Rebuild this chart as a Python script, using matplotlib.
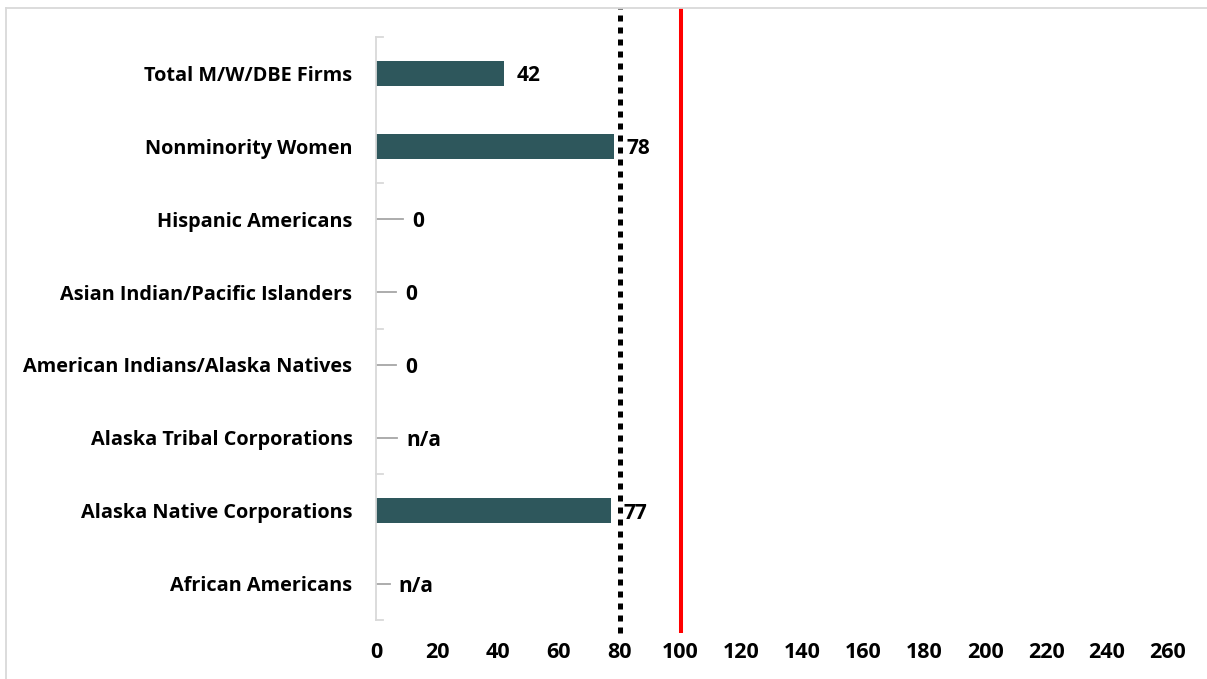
import matplotlib
matplotlib.use("Agg")
import matplotlib.pyplot as plt
import matplotlib.transforms as mtransforms
from matplotlib.lines import Line2D

plt.rcParams['font.family'] = ['Open Sans', 'DejaVu Sans']
plt.rcParams['font.weight'] = 'bold'

groups = [
    "Total M/W/DBE Firms",
    "Nonminority Women",
    "Hispanic Americans",
    "Asian Indian/Pacific Islanders",
    "American Indians/Alaska Natives",
    "Alaska Tribal Corporations",
    "Alaska Native Corporations",
    "African Americans",
]
values = [42, 78, 0, 0, 0, None, 77, None]
value_labels = ["42", "78", "0", "0", "0", "n/a", "77", "n/a"]
# short leader stubs drawn for empty categories
stub_len = [0, 0, 9, 6.5, 6.5, 7, 0, 4.5]

threshold_80 = 80
parity_100 = 100
x_ticks = list(range(0, 261, 20))

bar_color = "#2E575C"
axis_gray = "#D9D9D9"

fig = plt.figure(figsize=(12.07, 6.79), dpi=100)
W, H = 1207, 679
ax = fig.add_axes([376 / W, 1 - 620 / H, (1168 - 376) / W, (620 - 37) / H])

n = len(groups)
ypos = list(range(n))
ax.set_ylim(n - 0.5, -0.5)
ax.set_xlim(0, 260)

for y, v, lab, stub in zip(ypos, values, value_labels, stub_len):
    if v:
        ax.barh(y, v, height=0.34, color=bar_color, zorder=2)
        ax.text(v + 4.2, y, lab, va="center_baseline", ha="left", fontsize=15, fontweight="bold")
    else:
        ax.plot([0, stub], [y, y], color="#A6A6A6", lw=1.3, zorder=2)
        ax.text(stub + 3, y, lab, va="center_baseline", ha="left", fontsize=15, fontweight="bold")

# reference lines run past the plot area, top border to below the axis
trans = mtransforms.blended_transform_factory(ax.transData, ax.transAxes)
ax.plot([threshold_80, threshold_80], [-0.022, 1.05], transform=trans, color="black",
        lw=3.6, linestyle=(0, (1.2, 1.2)), solid_capstyle="butt", clip_on=False, zorder=3)
ax.plot([parity_100, parity_100], [-0.022, 1.05], transform=trans, color="#FF0000",
        lw=2.9, solid_capstyle="butt", clip_on=False, zorder=3)

ax.set_yticks(ypos)
ax.set_yticklabels(groups, fontsize=14.3, fontweight="bold")
ax.tick_params(axis="y", length=0, pad=17)
ax.set_xticks(x_ticks)
ax.set_xticklabels([str(t) for t in x_ticks], fontsize=15.5, fontweight="bold")
ax.tick_params(axis="x", length=0, pad=16)

for s in ["top", "right", "bottom"]:
    ax.spines[s].set_visible(False)
ax.spines["left"].set_color(axis_gray)
ax.spines["left"].set_linewidth(1.3)

# category boundary ticks on the value axis
for b in [-0.5, 1.5, 3.5, 5.5, 7.5]:
    ax.plot([0, 2.2], [b, b], color=axis_gray, lw=1.3, clip_on=False, zorder=1)

# chart area border
fig.add_artist(Line2D([6 / W, 6 / W], [0, 1 - 8 / H], transform=fig.transFigure,
                      color=axis_gray, lw=1.3))
fig.add_artist(Line2D([6 / W, 1], [1 - 8 / H, 1 - 8 / H], transform=fig.transFigure,
                      color=axis_gray, lw=1.3))

fig.savefig("out.png", dpi=100)
